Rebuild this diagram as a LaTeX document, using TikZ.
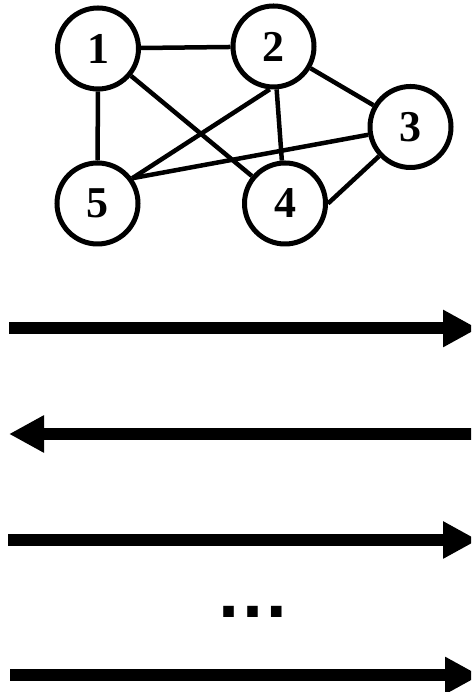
\documentclass[tikz,border=0pt]{standalone}
\usepackage{fontspec}
\setmainfont{Liberation Serif}
\newfontfamily\dotsfont{Liberation Sans}
\usetikzlibrary{arrows.meta}
\begin{document}
\begin{tikzpicture}[x=1pt,y=1pt,
  vertex/.style={circle,draw,line width=5pt,minimum size=81pt,inner sep=0pt,
    font=\bfseries\fontsize{44}{44}\selectfont},
  edge/.style={line width=4.5pt},
  flow/.style={line width=12pt,-{Triangle[length=35pt,width=35pt]}}]
\useasboundingbox (0,0) rectangle (471,692);
\clip (0,0) rectangle (471,692);

% graph
\node[vertex] (n1) at (98,643.5) {1};
\node[vertex] (n2) at (273.5,645.5) {2};
\node[vertex] (n3) at (410.5,565) {3};
\node[vertex] (n5) at (97.5,488.5) {5};
\node[vertex] (n4) at (285,488.5) {4};

\draw[edge] (n1) -- (n2);
\draw[edge] (n1) -- (n5);
\draw[edge] (n1) -- (n4);
\draw[edge] (n2) -- (n3);
\draw[edge] (n2.265) -- (n5.36);
\draw[edge] (n2) -- (n4);
\draw[edge] (n3) -- (n5.36);
\draw[edge] (n3) -- (n4.east);

% passes
\coordinate (a1s) at (9,363.5);  \coordinate (a1e) at (478,363.5);
\coordinate (a2s) at (480,258);  \coordinate (a2e) at (9,258);
\coordinate (a3s) at (8,152);    \coordinate (a3e) at (478,152);
\coordinate (a4s) at (10,16.5);  \coordinate (a4e) at (480,16.5);

\draw[flow] (a1s) -- (a1e);
\draw[flow] (a2s) -- (a2e);
\draw[flow] (a3s) -- (a3e);
\draw[flow] (a4s) -- (a4e);

\node[anchor=base,inner sep=0pt,font=\dotsfont\bfseries\fontsize{75}{75}\selectfont] (more) at (253,74) {…};
\end{tikzpicture}
\end{document}
